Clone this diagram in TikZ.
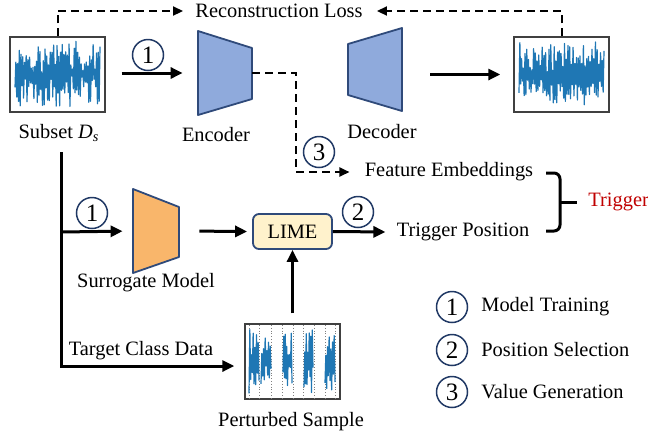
\documentclass[tikz,border=0pt]{standalone}
\usepackage{fontspec}
\setmainfont{Liberation Serif}
\usetikzlibrary{arrows.meta}
\definecolor{navy}{HTML}{2F4A7A}
\definecolor{ringc}{HTML}{203864}
\definecolor{encfill}{HTML}{8FAADC}
\definecolor{surfill}{HTML}{F9B66B}
\definecolor{limefill}{HTML}{FFF2CC}
\definecolor{sigblue}{HTML}{1F77B4}
\definecolor{trigred}{HTML}{C00000}
\begin{document}
\begin{tikzpicture}[x=0.5pt,y=-0.5pt,
  font=\fontsize{10.2}{12}\selectfont,
  sigbox/.style={draw=black!75, line width=0.7pt, minimum width=47.5pt, minimum height=37.5pt, inner sep=0},
  sig/.style={draw=sigblue, line width=0.6pt, line join=round},
  solidarrow/.style={line width=1.5pt, -{Triangle[length=6pt,width=5.5pt]}},
  dasharrow/.style={line width=1pt, dash pattern=on 4pt off 2.5pt, -{Triangle[length=5pt,width=4.5pt]}},
  num/.style={circle, draw=ringc, line width=0.75pt, minimum size=15.5pt, inner sep=0, font=\fontsize{12.5}{13}\selectfont},
  lbl/.style={inner sep=0},
  trap/.style={draw=navy, line width=0.9pt, line join=round}
]
\useasboundingbox (0,0) rectangle (648,436);
\pgfmathsetseed{11}

% ---------- top row ----------
\node[sigbox] (src) at (57.5,74.5) {};
\draw[sig] plot[domain=15:100, samples=100]
  (\x, {74 + (1-2*mod(round((\x-15)/0.8586),2))*(5 + 27*rnd) + 4*rand});
\node[sigbox] (dst) at (561.5,74.5) {};
\draw[sig] plot[domain=519:604, samples=100]
  (\x, {74 + (1-2*mod(round((\x-519)/0.8586),2))*(5 + 27*rnd) + 4*rand});
\node[lbl] (srclbl) at (59,133) {Subset \textit{D}\textsubscript{\textit{s}}};

\node[inner sep=3pt] (rl) at (279,11) {Reconstruction Loss};
\draw[dasharrow, shorten >=3pt] (src.north) |- (rl.west);
\draw[dasharrow, shorten >=4pt] (dst.north) |- (rl.east);

% encoder
\node[inner sep=0, minimum width=27pt, minimum height=42pt] (enc) at (225,73) {};
\draw[trap, fill=encfill] (198,31) -- (252,48) -- (252,99) -- (198,115) -- cycle;
\node[lbl] (enclbl) at (216,135) {Encoder};
% decoder
\node[inner sep=0, minimum width=27pt, minimum height=42pt] (dec) at (375,70) {};
\draw[trap, fill=encfill] (348,44) -- (402,28) -- (402,111) -- (348,95) -- cycle;
\node[lbl] (declbl) at (382,132) {Decoder};

\draw[solidarrow, shorten <=8pt, shorten >=7.5pt] (src.east |- enc.west) -- (enc.west);
\node[num] (n1a) at (148,55) {1};
\draw[solidarrow, shorten <=14pt, shorten >=6.5pt] (dec.east |- dst.west) -- (dst.west);

% feature embeddings
\node[inner sep=3pt] (fe) at (449,172) {Feature Embeddings};
\coordinate (bend) at (296,172);
\draw[dasharrow, shorten >=4.5pt] (enc.east) -| (bend) -- (fe.west);
\node[num] (n3) at (319,152) {3};

% ---------- middle row ----------
\coordinate (split) at (61,232);
\coordinate (corner) at (61,366);
\node[inner sep=0, minimum width=23pt, minimum height=42pt] (sur) at (156,231) {};
\draw[trap, fill=surfill] (133,189) -- (179,207) -- (179,257) -- (133,273) -- cycle;
\node[lbl] (surlbl) at (146,283) {Surrogate Model};

\node[draw=navy, line width=0.9pt, fill=limefill, rounded corners=3pt, minimum width=39.5pt, minimum height=17.5pt, inner sep=0] (lime) at (292.5,231.5) {LIME};

\node[sigbox] (pert) at (292.5,361.5) {};
\foreach \xx in {249,259,271,282,293,303,314,325,335}
  \draw[gray, densely dotted, line width=0.4pt] (\xx,325) -- (\xx,398);
\foreach \a/\b in {249/259, 261/271, 283/292, 304/313, 325/335}
  \draw[sig] plot[domain=\a:\b, samples=13]
    (\x, {362 + (1-2*mod(round((\x-\a)*12/(\b-\a)),2))*(5 + 26*rnd) + 4*rand});
\node[lbl] (pertlbl) at (291,422) {Perturbed Sample};

\draw[line width=1.5pt, shorten <=5pt] (split |- srclbl.south) -- (split);
\draw[solidarrow, shorten >=5pt] (split) -- (sur.west);
\node[num] (n1b) at (92,213) {1};
\draw[solidarrow, shorten >=5pt] (split) -- (corner) -- (pert.west |- corner);
\node[lbl] (tcd) at (141,351) {Target Class Data};

\draw[solidarrow, shorten <=10pt, shorten >=2.5pt] (sur.east) -- (lime.west);
\draw[solidarrow, shorten <=5pt] (pert.north) -- (lime.south);

\node[inner sep=3pt] (tp) at (463,232) {Trigger Position};
\draw[solidarrow, shorten >=2.5pt] (lime.east) -- (tp.west);
\node[num] (n2) at (358,212) {2};

% brace
\coordinate (bt) at (546,173);
\coordinate (bb) at (546,231);
\coordinate (bm) at (577,202);
\draw[line width=1.5pt, rounded corners=3pt] (bt) -- (560,173) -- (560,231) -- (bb);
\draw[line width=1.5pt] (560,202) -- (bm);
\node[lbl, anchor=west, text=trigred] (trig) at (588,202) {Trigger};

% ---------- legend ----------
\node[num] (l1) at (452,307) {1};
\node[lbl, anchor=west] (t1) at (481,307) {Model Training};
\node[num] (l2) at (452,350) {2};
\node[lbl, anchor=west] (t2) at (481,350) {Position Selection};
\node[num] (l3) at (452,392) {3};
\node[lbl, anchor=west] (t3) at (481,392) {Value Generation};
\end{tikzpicture}
\end{document}
